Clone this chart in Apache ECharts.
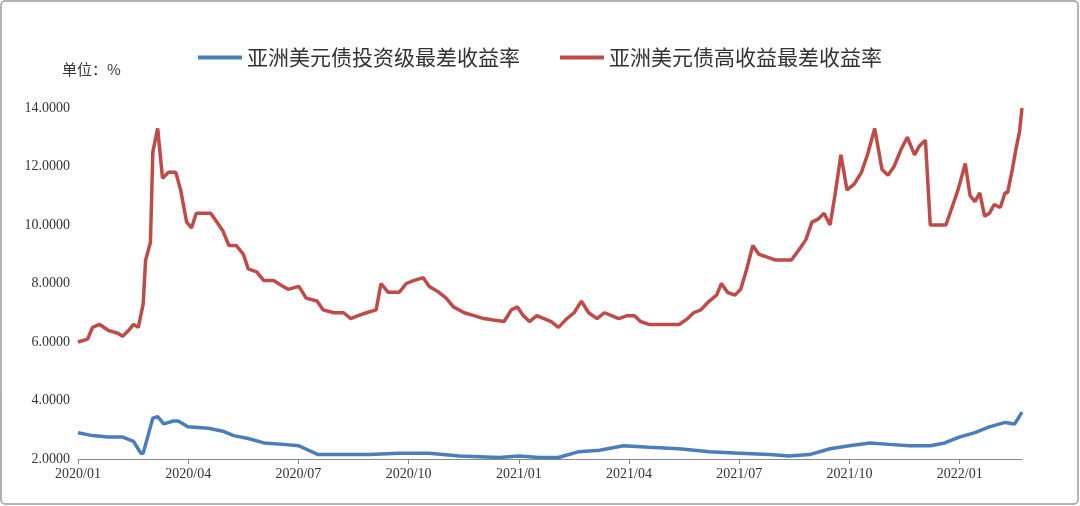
<!DOCTYPE html>
<html><head><meta charset="utf-8">
<script src="https://cdn.jsdelivr.net/npm/echarts@6/dist/echarts.min.js"></script>
<style>html,body{margin:0;padding:0;background:#fff}#c{width:1080px;height:506px}</style>
</head><body><div id="c"></div>
<script>
// days since 2020-01-01
const hyDays=[0,8,12,18,25,33,37,42,46,50,54,56,60,62,66,70,75,81,85,90,94,98,104,110,115,120,125,131,137,141,148,154,162,170,174,183,189,198,203,212,220,226,232,239,247,251,257,266,272,278,286,291,299,305,311,320,328,336,344,353,359,364,369,374,380,386,392,398,405,411,417,423,430,436,442,448,455,461,466,473,480,486,491,498,505,510,516,523,529,533,538,544,549,554,559,564,571,578,585,591,598,603,608,613,618,623,627,632,637,643,649,654,660,666,671,676,682,687,693,697,702,706,712,719,724,729,733,735,739,743,747,751,755,759,764,768,770,774,777,780,782];
const hyVals=[6.0,6.1,6.5,6.6,6.4,6.3,6.2,6.4,6.6,6.5,7.3,8.8,9.4,12.5,13.3,11.6,11.8,11.8,11.2,10.1,9.9,10.4,10.4,10.4,10.1,9.8,9.3,9.3,9.0,8.5,8.4,8.1,8.1,7.9,7.8,7.9,7.5,7.4,7.1,7.0,7.0,6.8,6.9,7.0,7.1,8.0,7.7,7.7,8.0,8.1,8.2,7.9,7.7,7.5,7.2,7.0,6.9,6.8,6.75,6.7,7.1,7.2,6.9,6.7,6.9,6.8,6.7,6.5,6.8,7.0,7.4,7.0,6.8,7.0,6.9,6.8,6.9,6.9,6.7,6.6,6.6,6.6,6.6,6.6,6.8,7.0,7.1,7.4,7.6,8.0,7.7,7.6,7.8,8.5,9.3,9.0,8.9,8.8,8.8,8.8,9.2,9.5,10.1,10.2,10.4,10.0,11.0,12.4,11.2,11.4,11.8,12.4,13.3,11.9,11.7,12.0,12.6,13.0,12.4,12.7,12.9,10.0,10.0,10.0,10.6,11.2,11.8,12.1,11.0,10.8,11.1,10.3,10.4,10.7,10.6,11.1,11.1,11.9,12.6,13.2,14.0];
const igDays=[0,12,25,37,46,52,54,58,62,66,71,79,83,91,108,120,129,141,154,170,183,191,199,216,241,266,291,316,349,365,382,398,415,432,452,473,498,523,548,573,589,606,623,639,656,672,689,706,718,730,743,755,768,776,782];
const igVals=[2.9,2.8,2.75,2.75,2.6,2.2,2.2,2.8,3.4,3.45,3.2,3.3,3.3,3.1,3.05,2.95,2.8,2.7,2.55,2.5,2.45,2.3,2.15,2.15,2.15,2.2,2.2,2.1,2.05,2.1,2.05,2.05,2.25,2.3,2.45,2.4,2.35,2.25,2.2,2.15,2.1,2.15,2.35,2.45,2.55,2.5,2.45,2.45,2.55,2.75,2.9,3.1,3.25,3.2,3.6];
const seriesNames=['亚洲美元债投资级最差收益率','亚洲美元债高收益最差收益率'];
const yTicks=[2,4,6,8,10,12,14];
const base=Date.UTC(2020,0,1);
function lbl(v){const d=new Date(base+(v+3)*86400000);return d.getUTCFullYear()+'/'+String(d.getUTCMonth()+1).padStart(2,'0');}
const zip=(a,b)=>a.map((d,i)=>[d,b[i]]);
const ch=echarts.init(document.getElementById('c'));
ch.setOption({
 animation:false,
 graphic:[{type:'rect',shape:{x:1,y:1,width:1077,height:503,r:4},style:{fill:'none',stroke:'#9a9a9a',lineWidth:1.5}},
  {type:'text',left:62,top:62,style:{text:'单位：%',font:'15px "Noto Sans CJK SC"',fill:'#333'}}],
 legend:{top:42,left:'center',icon:'rect',itemWidth:44,itemHeight:4,itemGap:40,textStyle:{fontFamily:'Noto Sans CJK SC',fontSize:21,color:'#333'},
  data:seriesNames.map(n=>({name:n,icon:'rect'}))},
 grid:{left:78,right:58,top:108,bottom:47},
 xAxis:{type:'value',min:0,max:782,interval:91.3,
  axisLine:{lineStyle:{color:'#888'}},axisTick:{show:true,lineStyle:{color:'#888'}},splitLine:{show:false},
  axisLabel:{showMaxLabel:false,formatter:lbl,color:'#333',fontFamily:'Liberation Serif',fontSize:14}},
 yAxis:{type:'value',min:2,max:14,interval:2,axisLine:{show:false},axisTick:{show:false},splitLine:{show:false},
  axisLabel:{formatter:v=>v.toFixed(4),color:'#333',fontFamily:'Liberation Serif',fontSize:14}},
 series:[
  {name:seriesNames[0],type:'line',data:zip(igDays,igVals),showSymbol:false,lineStyle:{width:3.5,color:'#4a7ebb'},itemStyle:{color:'#4a7ebb'}},
  {name:seriesNames[1],type:'line',data:zip(hyDays,hyVals),showSymbol:false,lineStyle:{width:3.5,color:'#be4b48'},itemStyle:{color:'#be4b48'}}
 ]
});
</script></body></html>
